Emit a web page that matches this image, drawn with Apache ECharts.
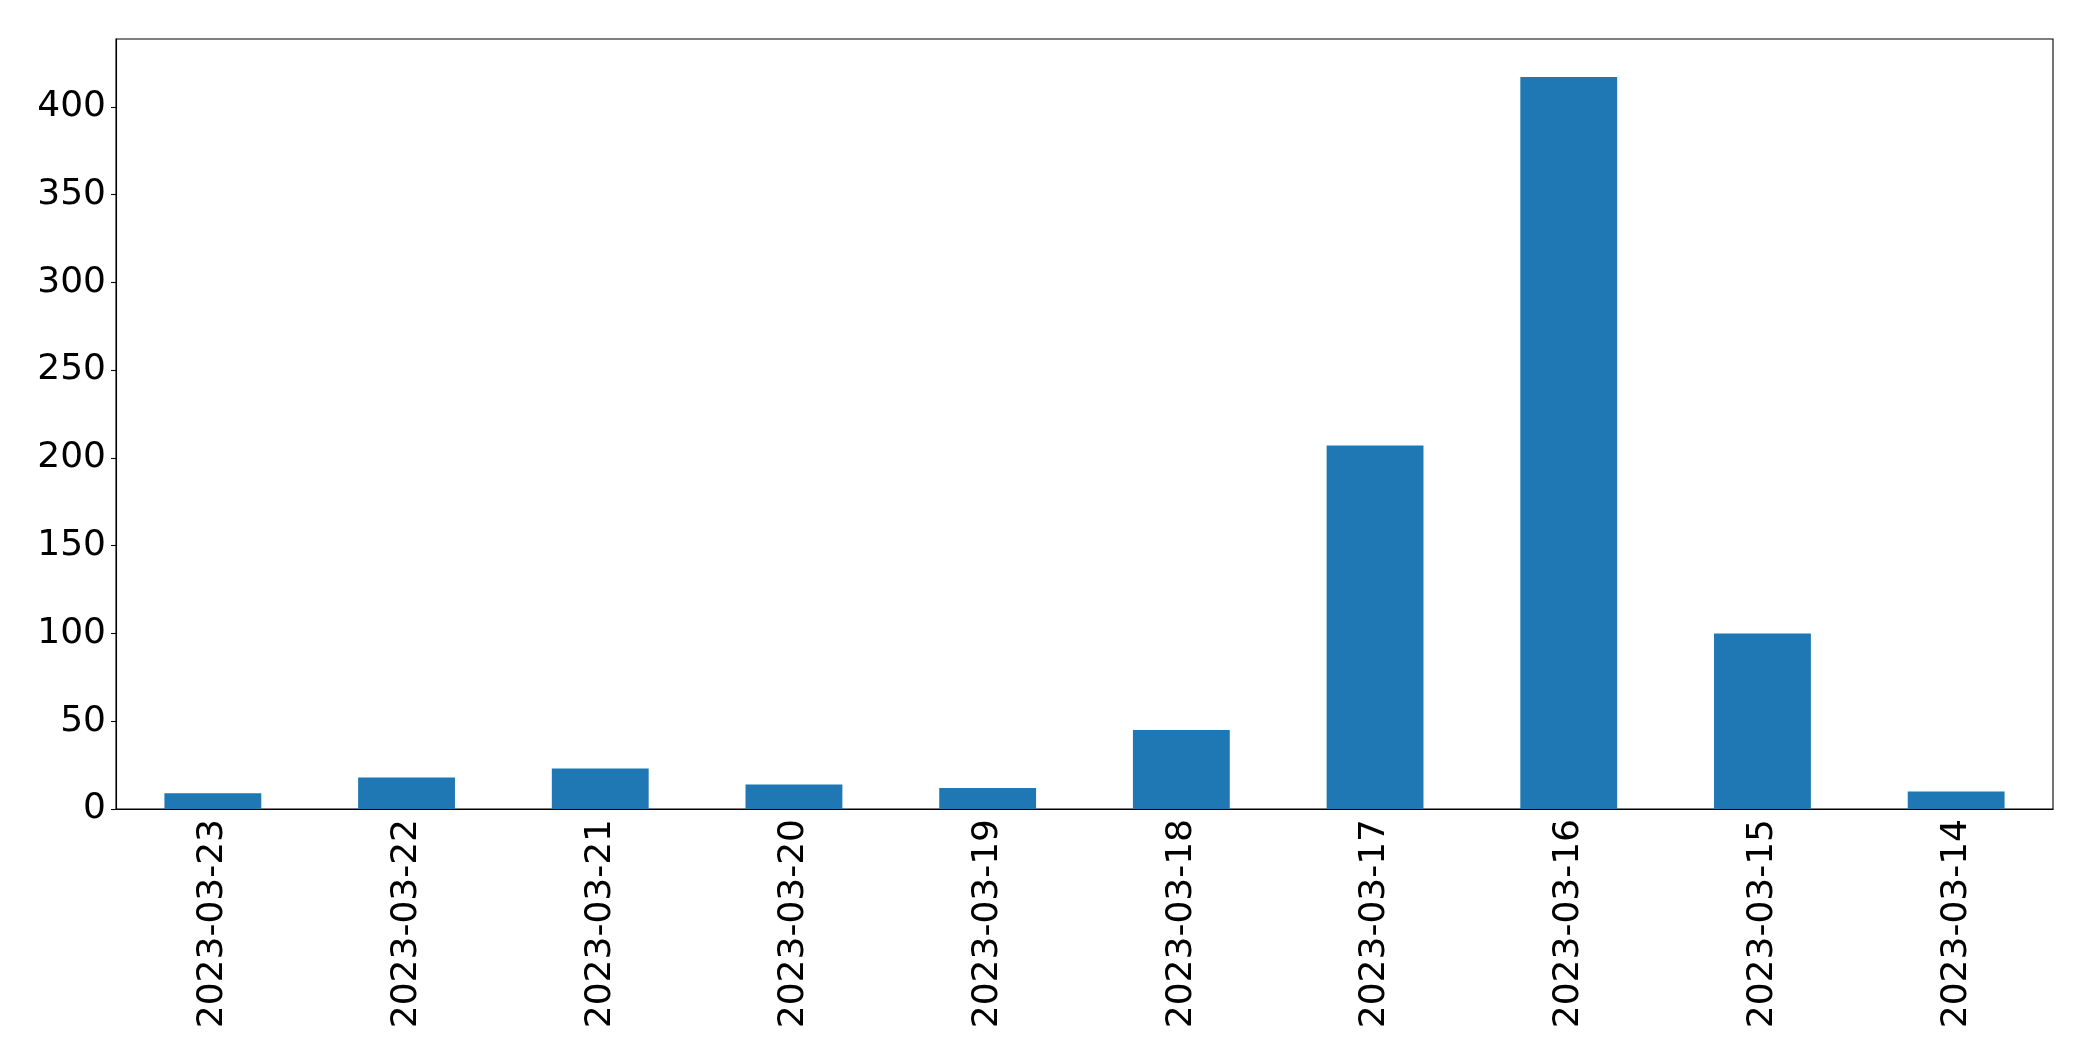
<!DOCTYPE html>
<html>
<head>
<meta charset="utf-8">
<script src="https://cdn.jsdelivr.net/npm/echarts@6/dist/echarts.min.js"></script>
<style>
  html, body { margin: 0; padding: 0; background: #fff; }
  #chart { width: 2093px; height: 1061px; }
</style>
</head>
<body>
<div id="chart"></div>
<script>
const dates = ['2023-03-23', '2023-03-22', '2023-03-21', '2023-03-20', '2023-03-19',
  '2023-03-18', '2023-03-17', '2023-03-16', '2023-03-15', '2023-03-14']
const counts = [9, 18, 23, 14, 12, 45, 207, 417, 100, 10]
const yTicks = [0, 50, 100, 150, 200, 250, 300, 350, 400]

const chart = echarts.init(document.getElementById('chart'))
const font = 'DejaVu Sans'

chart.setOption({
  backgroundColor: '#fff',
  animation: false,
  grid: {
    left: 116,
    right: 40,
    top: 39,
    bottom: 252,
    show: true,
    borderColor: '#000',
    borderWidth: 1.1,
    containLabel: false
  },
  xAxis: {
    type: 'category',
    data: dates,
    boundaryGap: true,
    axisLine: { lineStyle: { color: '#000', width: 1.1 } },
    axisTick: { alignWithLabel: true, length: 5, lineStyle: { color: '#000', width: 1.1 } },
    axisLabel: {
      rotate: 90,
      margin: 10,
      color: '#000',
      fontFamily: font,
      fontSize: 36
    },
    splitLine: { show: false }
  },
  yAxis: {
    type: 'value',
    min: 0,
    max: 438.6,
    interval: 50,
    axisLine: { show: true, lineStyle: { color: '#000', width: 1.1 } },
    axisTick: { show: true, length: 5, customValues: yTicks, lineStyle: { color: '#000', width: 1.1 } },
    axisLabel: {
      margin: 10,
      color: '#000',
      fontFamily: font,
      fontSize: 36,
      customValues: yTicks
    },
    splitLine: { show: false }
  },
  series: [
    {
      type: 'bar',
      data: counts,
      barWidth: '50%',
      itemStyle: { color: '#1f77b4' }
    }
  ]
})
</script>
</body>
</html>
